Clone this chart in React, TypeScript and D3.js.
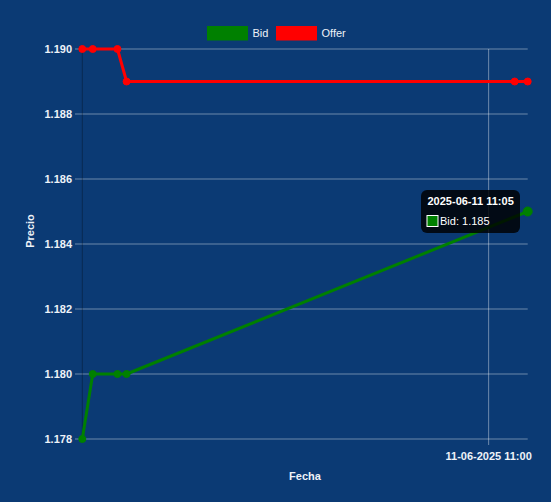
import React from "react";
import * as d3 from "d3";

const times = [
  "2025-06-11 10:08:00",
  "2025-06-11 10:09:20",
  "2025-06-11 10:12:30",
  "2025-06-11 10:13:40",
  "2025-06-11 11:03:20",
  "2025-06-11 11:05:00",
];
const bidIdx = [0, 1, 2, 3, 5];
const bidValues = [1.178, 1.18, 1.18, 1.18, 1.185];
const offerIdx = [0, 1, 2, 3, 4, 5];
const offerValues = [1.19, 1.19, 1.19, 1.189, 1.189, 1.189];
const yTickValues = [1.178, 1.18, 1.182, 1.184, 1.186, 1.188, 1.19];
const xTickValues = ["2025-06-11 11:00:00"];
const seriesNames = ["Bid", "Offer"];
const seriesColors = ["#008000", "#ff0000"];
const tooltipTitle = "2025-06-11 11:05";
const tooltipBody = "Bid: 1.185";

const W = 551;
const H = 502;
const BG = "#0b3a74";
const GRID = "rgba(255,255,255,0.4)";
const TXT = "#eef2f8";
const FONT = "'Liberation Sans', Arial, Helvetica, sans-serif";

const parse = d3.timeParse("%Y-%m-%d %H:%M:%S");
const fmtX = d3.timeFormat("%d-%m-%Y %H:%M");

export default function App() {
  const dates = times.map((t) => parse(t) as Date);
  const x = d3
    .scaleTime()
    .domain(d3.extent(dates) as [Date, Date])
    .range([82.3, 527.7]);
  const y = d3
    .scaleLinear()
    .domain([d3.min(yTickValues)!, d3.max(yTickValues)!])
    .range([439, 49]);
  const left = 82.3;
  const right = 527.7;
  const top = 49;
  const bottom = 439;

  const bid = bidIdx.map((i, k) => ({ d: dates[i], v: bidValues[k] }));
  const offer = offerIdx.map((i, k) => ({ d: dates[i], v: offerValues[k] }));
  const line = d3
    .line<{ d: Date; v: number }>()
    .x((p) => x(p.d))
    .y((p) => y(p.v));
  const series = [bid, offer];
  const xTicks = xTickValues.map((t) => parse(t) as Date);
  const last = bid[bid.length - 1];
  const lx = x(last.d);
  const ly = y(last.v);

  const legendBoxes = [207.5, 276.5];

  return (
    <svg
      width={W}
      height={H}
      style={{ position: "absolute", left: 0, top: 0 }}
      fontFamily={FONT}
    >
      <rect x={0} y={0} width={W} height={H} fill={BG} />
      {/* horizontal grid + y ticks */}
      {yTickValues.map((t) => (
        <g key={t}>
          <line x1={75} x2={right} y1={y(t)} y2={y(t)} stroke={GRID} strokeWidth={1} />
          <text
            x={72}
            y={y(t)}
            dy="0.35em"
            textAnchor="end"
            fontSize={11}
            fontWeight="bold"
            fill={TXT}
          >
            {d3.format(".3f")(t)}
          </text>
        </g>
      ))}
      {/* left axis line */}
      <line x1={left} x2={left} y1={top} y2={bottom} stroke="rgba(0,0,0,0.3)" strokeWidth={1} />
      {/* vertical grid + x ticks */}
      {xTicks.map((t) => (
        <g key={t.getTime()}>
          <line x1={x(t)} x2={x(t)} y1={top} y2={bottom + 6} stroke={GRID} strokeWidth={1} />
          <text
            x={x(t)}
            y={456}
            dy="0.35em"
            textAnchor="middle"
            fontSize={11}
            fontWeight="bold"
            fill={TXT}
          >
            {fmtX(t)}
          </text>
        </g>
      ))}
      {/* axis titles */}
      <text
        x={(left + right) / 2}
        y={476}
        dy="0.35em"
        textAnchor="middle"
        fontSize={11}
        fontWeight="bold"
        fill={TXT}
      >
        Fecha
      </text>
      <text
        transform={`translate(30,231) rotate(-90)`}
        dy="0.35em"
        textAnchor="middle"
        fontSize={11}
        fontWeight="bold"
        fill={TXT}
      >
        Precio
      </text>
      {/* series */}
      {series.map((s, i) => (
        <g key={seriesNames[i]}>
          <path
            d={line(s) || ""}
            fill="none"
            stroke={seriesColors[i]}
            strokeWidth={3}
            strokeLinejoin="round"
          />
          {s.map((p, k) => (
            <circle
              key={k}
              cx={x(p.d)}
              cy={y(p.v)}
              r={3.5}
              fill={seriesColors[i]}
              stroke={seriesColors[i]}
              strokeWidth={1}
            />
          ))}
        </g>
      ))}
      {/* hovered point */}
      <circle cx={lx} cy={ly} r={4.5} fill={seriesColors[0]} stroke={seriesColors[0]} />
      {/* legend */}
      {seriesNames.map((n, i) => (
        <g key={n}>
          <rect
            x={legendBoxes[i]}
            y={26.5}
            width={40}
            height={13.5}
            fill={seriesColors[i]}
            stroke={seriesColors[i]}
          />
          <text
            x={legendBoxes[i] + 45}
            y={33}
            dy="0.35em"
            fontSize={11}
            fill={TXT}
          >
            {n}
          </text>
        </g>
      ))}
      {/* tooltip */}
      <g>
        <rect
          x={421}
          y={190}
          width={99}
          height={43}
          rx={6}
          ry={6}
          fill="rgba(0,0,0,0.82)"
        />
        <text x={427.5} y={201.5} dy="0.35em" fontSize={11} fontWeight="bold" fill="#fff">
          {tooltipTitle}
        </text>
        <rect
          x={427}
          y={215.5}
          width={11}
          height={11}
          fill={seriesColors[0]}
          stroke="#fff"
          strokeWidth={1}
        />
        <text x={440} y={221} dy="0.35em" fontSize={11} fill="#fff">
          {tooltipBody}
        </text>
      </g>
    </svg>
  );
}
